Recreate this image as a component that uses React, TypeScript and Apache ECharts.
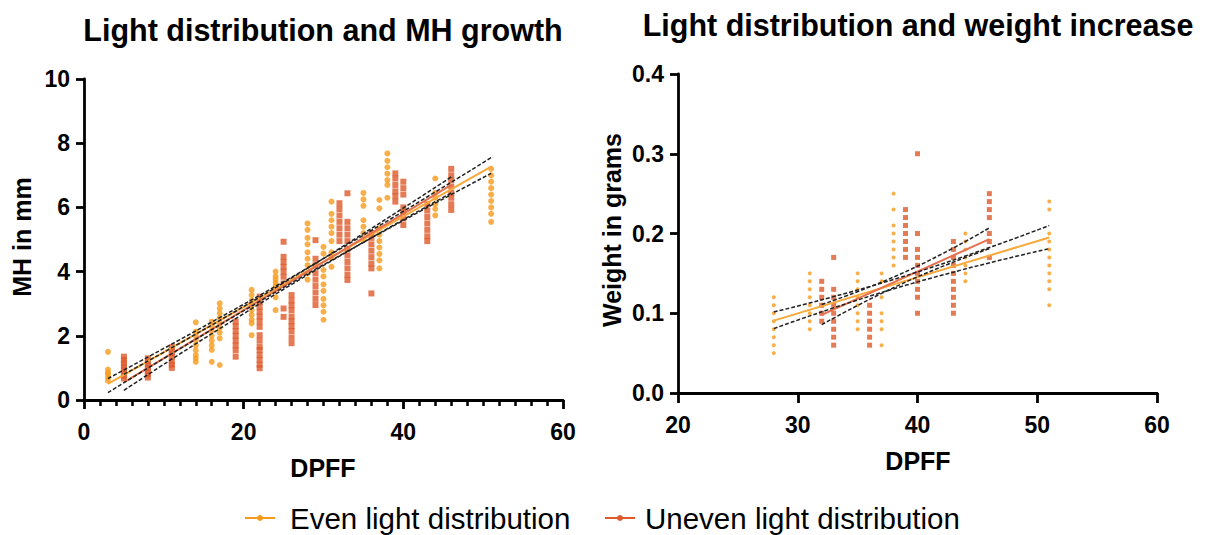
import React, { useEffect, useRef } from "react";
import * as echarts from "echarts";

// ---- Data ----
// Left chart: DPFF vs MH (mm), columns of [DPFF, values]
const mhEvenCols: [number, number[]][] = [
  [3, [1.5, 0.95, 0.85, 0.8, 0.7, 0.6]],
  [14, [2.42, 2.13, 2.0, 1.85, 1.7, 1.55, 1.4, 1.3, 1.19]],
  [16, [2.44, 2.3, 2.15, 2.0, 1.85, 1.7, 1.56, 1.19]],
  [17, [3.01, 2.85, 2.7, 2.55, 2.4, 2.25, 2.1, 1.92, 1.09]],
  [21, [3.43, 3.27, 3.1, 2.95, 2.8, 2.65, 2.5, 2.39, 2.02]],
  [24, [4.0, 3.85, 3.75, 3.65, 3.55, 3.45, 3.2, 2.8]],
  [28, [5.5, 5.3, 5.05, 4.85, 4.6, 4.4, 4.2, 3.95, 3.75]],
  [30, [4.77, 4.56, 4.05, 3.85, 3.6, 3.4, 3.15, 2.95, 2.75, 2.5]],
  [31, [6.18, 5.8, 5.6, 5.4, 5.2, 4.95, 4.6, 4.45, 4.15]],
  [35, [6.45, 6.25, 6.05, 5.6, 5.4, 5.2, 5.0]],
  [37, [6.23, 5.97, 5.35, 5.15, 4.95, 4.75, 4.55, 4.35, 4.1]],
  [38, [7.68, 7.45, 7.25, 7.05, 6.85, 6.7, 6.3]],
  [44, [6.9, 6.45, 6.3, 6.1, 5.95, 5.75]],
  [51, [7.2, 7.0, 6.8, 6.6, 6.4, 6.2, 6.0, 5.8, 5.55]],
];
const mhUnevenCols: [number, number[]][] = [
  [5, [1.35, 1.25, 1.15, 1.05, 0.95, 0.85, 0.75, 0.67]],
  [8, [1.3, 1.2, 1.1, 1.0, 0.9, 0.8, 0.7]],
  [11, [1.65, 1.55, 1.45, 1.35, 1.2, 1.1, 1.0]],
  [19, [2.44, 2.3, 2.15, 2.0, 1.85, 1.7, 1.55, 1.35]],
  [22, [3.22, 3.05, 2.9, 2.75, 2.6, 2.45, 2.28, 2.02, 1.85, 1.66, 1.56, 1.4, 1.25, 1.1, 0.99]],
  [25, [4.93, 4.46, 4.3, 4.15, 4.0, 3.84, 3.63, 2.85, 2.59]],
  [26, [3.27, 3.1, 2.95, 2.8, 2.6, 2.45, 2.3, 2.15, 1.95, 1.77]],
  [29, [4.98, 4.4, 4.2, 3.95, 3.75, 3.55, 3.35, 3.15, 2.96]],
  [32, [6.13, 5.95, 5.75, 5.55, 5.35, 5.15, 4.95]],
  [33, [6.44, 5.55, 5.35, 5.15, 4.95, 4.7, 4.5, 4.3, 4.1, 3.9, 3.74]],
  [36, [5.2, 5.05, 4.85, 4.65, 4.45, 4.25, 4.1, 3.32]],
  [39, [7.06, 6.9, 6.7, 6.5, 6.35, 6.18]],
  [40, [6.8, 6.6, 6.4, 6.0, 5.85, 5.65, 5.45]],
  [43, [6.1, 5.9, 5.7, 5.5, 5.3, 5.1, 4.95]],
  [46, [7.2, 7.0, 6.85, 6.65, 6.45, 6.3, 6.1, 5.92]],
];
const mhEvenFit: [number, number][] = [[3, 0.5], [51, 7.27]];
const mhEvenUpper: [number, number][] = [[3, 0.67], [27, 3.97], [51, 7.55]];
const mhEvenLower: [number, number][] = [[3, 0.23], [27, 3.79], [51, 7.06]];
const mhUnevenFit: [number, number][] = [[5, 0.55], [46, 6.7]];
const mhUnevenUpper: [number, number][] = [[5, 0.8], [25, 3.65], [46, 6.95]];
const mhUnevenLower: [number, number][] = [[5, 0.3], [25, 3.45], [46, 6.45]];

// Right chart: DPFF vs weight (g)
const wEvenCols: [number, number[]][] = [
  [28, [0.12, 0.11, 0.1, 0.09, 0.08, 0.07, 0.06, 0.05]],
  [31, [0.15, 0.14, 0.13, 0.12, 0.11, 0.1, 0.09, 0.08]],
  [35, [0.15, 0.14, 0.13, 0.12, 0.11, 0.1, 0.09, 0.08]],
  [37, [0.15, 0.14, 0.12, 0.1, 0.09, 0.08, 0.06]],
  [38, [0.25, 0.23, 0.21, 0.2, 0.19, 0.18, 0.17, 0.16]],
  [44, [0.2, 0.19, 0.18, 0.17, 0.16, 0.15, 0.14]],
  [51, [0.24, 0.23, 0.2, 0.19, 0.18, 0.17, 0.16, 0.15, 0.14, 0.13, 0.11]],
];
const wUnevenCols: [number, number[]][] = [
  [32, [0.14, 0.13, 0.12, 0.11, 0.1, 0.09]],
  [33, [0.17, 0.13, 0.12, 0.11, 0.1, 0.09, 0.08, 0.07, 0.06]],
  [36, [0.11, 0.1, 0.09, 0.08, 0.07, 0.06]],
  [39, [0.23, 0.22, 0.21, 0.2, 0.19, 0.18, 0.17]],
  [40, [0.3, 0.2, 0.18, 0.17, 0.16, 0.15, 0.14, 0.13, 0.12, 0.1]],
  [43, [0.19, 0.18, 0.17, 0.16, 0.15, 0.14, 0.13, 0.12, 0.11, 0.1]],
  [46, [0.25, 0.24, 0.23, 0.22, 0.2, 0.19, 0.17]],
];
const wEvenFit: [number, number][] = [[28, 0.0907], [51, 0.195]];
const wEvenUpper: [number, number][] = [[28, 0.1016], [39, 0.147], [51, 0.21]];
const wEvenLower: [number, number][] = [[28, 0.0807], [39, 0.135], [51, 0.181]];
const wUnevenFit: [number, number][] = [[32, 0.098], [46, 0.193]];
const wUnevenUpper: [number, number][] = [[32, 0.111], [39, 0.152], [46, 0.207]];
const wUnevenLower: [number, number][] = [[32, 0.0857], [39, 0.139], [46, 0.181]];

const titles = ["Light distribution and MH growth", "Light distribution and weight increase"];
const legendNames = ["Even light distribution", "Uneven light distribution"];

const EVEN = "#F89B1C";
const UNEVEN = "#DF5A2B";
const EVEN_LINE = "#F9A83A";
const UNEVEN_LINE = "#E6704C";
const FONT = "'Liberation Sans', Arial, Helvetica, sans-serif";

const flatten = (cols: [number, number[]][]) =>
  cols.flatMap(([x, ys]) => ys.map((y) => [x, y]));

export default function App() {
  const ref = useRef<HTMLDivElement>(null);
  useEffect(() => {
    if (!ref.current) return;
    const chart = echarts.init(ref.current, undefined, { renderer: "svg" });

    const axisLine = { show: true, onZero: false, lineStyle: { color: "#000", width: 2.8 } };
    const labelStyle = { color: "#000", fontWeight: "bold" as const, fontSize: 23, fontFamily: FONT };

    const scatter = (name: string, data: number[][], idx: number, color: string, symbol: string, size: number) => ({
      type: "scatter",
      name,
      xAxisIndex: idx,
      yAxisIndex: idx,
      data,
      symbol,
      symbolSize: size,
      itemStyle: { color },
      z: 2,
    });
    const line = (data: number[][], idx: number, color: string, dashed: boolean, width: number) => ({
      type: "line",
      xAxisIndex: idx,
      yAxisIndex: idx,
      data,
      showSymbol: false,
      symbol: "none",
      smooth: data.length > 2,
      lineStyle: { color, width, type: dashed ? [4, 2] : "solid" },
      z: dashed ? 4 : 3,
      silent: true,
    });

    const text = (t: string, x: number, y: number, size: number, bold: boolean, extra: any = {}) => ({
      type: "text",
      x,
      y,
      ...extra,
      style: {
        text: t,
        fill: "#000",
        font: `${bold ? "bold " : ""}${size}px ${FONT}`,
        align: extra.align || "center",
        verticalAlign: "middle",
      },
    });

    chart.setOption({
      animation: false,
      grid: [
        { left: 84, top: 79, width: 479, height: 321 },
        { left: 678, top: 74, width: 479, height: 319 },
      ],
      xAxis: [
        {
          gridIndex: 0, type: "value", min: 0, max: 60, interval: 20,
          axisLine, splitLine: { show: false },
          axisTick: { show: true, length: 9, lineStyle: { color: "#000", width: 2.8 } },
          minorTick: { show: true, splitNumber: 10, length: 6, lineStyle: { color: "#000", width: 2.5 } },
          axisLabel: { ...labelStyle, margin: 20 },
        },
        {
          gridIndex: 1, type: "value", min: 20, max: 60, interval: 10,
          axisLine, splitLine: { show: false },
          axisTick: { show: true, length: 10, lineStyle: { color: "#000", width: 2.8 } },
          axisLabel: { ...labelStyle, margin: 20 },
        },
      ],
      yAxis: [
        {
          gridIndex: 0, type: "value", min: 0, max: 10, interval: 2,
          axisLine, splitLine: { show: false },
          axisTick: { show: true, length: 8, lineStyle: { color: "#000", width: 2.8 } },
          axisLabel: { ...labelStyle, margin: 14 },
        },
        {
          gridIndex: 1, type: "value", min: 0, max: 0.4, interval: 0.1,
          axisLine, splitLine: { show: false },
          axisTick: { show: true, length: 8, lineStyle: { color: "#000", width: 2.8 } },
          axisLabel: { ...labelStyle, margin: 14, formatter: (v: number) => v.toFixed(1) },
        },
      ],
      series: [
        scatter("Even MH", flatten(mhEvenCols), 0, EVEN, "circle", 6),
        scatter("Uneven MH", flatten(mhUnevenCols), 0, UNEVEN, "rect", 6),
        line(mhEvenFit, 0, EVEN_LINE, false, 2),
        line(mhUnevenFit, 0, UNEVEN_LINE, false, 2),
        line(mhEvenUpper, 0, "#222", true, 1.5),
        line(mhEvenLower, 0, "#222", true, 1.5),
        line(mhUnevenUpper, 0, "#222", true, 1.5),
        line(mhUnevenLower, 0, "#222", true, 1.5),
        scatter("Even W", flatten(wEvenCols), 1, EVEN, "circle", 4),
        scatter("Uneven W", flatten(wUnevenCols), 1, UNEVEN, "rect", 5),
        line(wEvenFit, 1, EVEN_LINE, false, 2),
        line(wUnevenFit, 1, UNEVEN_LINE, false, 2),
        line(wEvenUpper, 1, "#222", true, 1.5),
        line(wEvenLower, 1, "#222", true, 1.5),
        line(wUnevenUpper, 1, "#222", true, 1.5),
        line(wUnevenLower, 1, "#222", true, 1.5),
      ],
      graphic: [
        text(titles[0], 323, 30, 30.5, true),
        text(titles[1], 918, 25, 30.5, true),
        text("MH in mm", 22, 237, 25, true, { rotation: Math.PI / 2 }),
        text("Weight in grams", 612, 230, 25, true, { rotation: Math.PI / 2 }),
        text("DPFF", 323, 468, 25, true),
        text("DPFF", 918, 461, 25, true),
        { type: "line", shape: { x1: 245, y1: 518, x2: 275, y2: 518 }, style: { stroke: EVEN, lineWidth: 2 } },
        { type: "circle", shape: { cx: 260, cy: 518, r: 3 }, style: { fill: EVEN } },
        text(legendNames[0], 290, 518, 29.5, false, { align: "left" }),
        { type: "line", shape: { x1: 605, y1: 518, x2: 635, y2: 518 }, style: { stroke: UNEVEN, lineWidth: 2 } },
        { type: "circle", shape: { cx: 620, cy: 518, r: 3 }, style: { fill: UNEVEN } },
        text(legendNames[1], 645, 518, 29.5, false, { align: "left" }),
      ],
    });
    return () => chart.dispose();
  }, []);
  return (
    <div
      ref={ref}
      style={{ position: "absolute", left: 0, top: 0, width: 1208, height: 535, background: "#fff" }}
    />
  );
}
